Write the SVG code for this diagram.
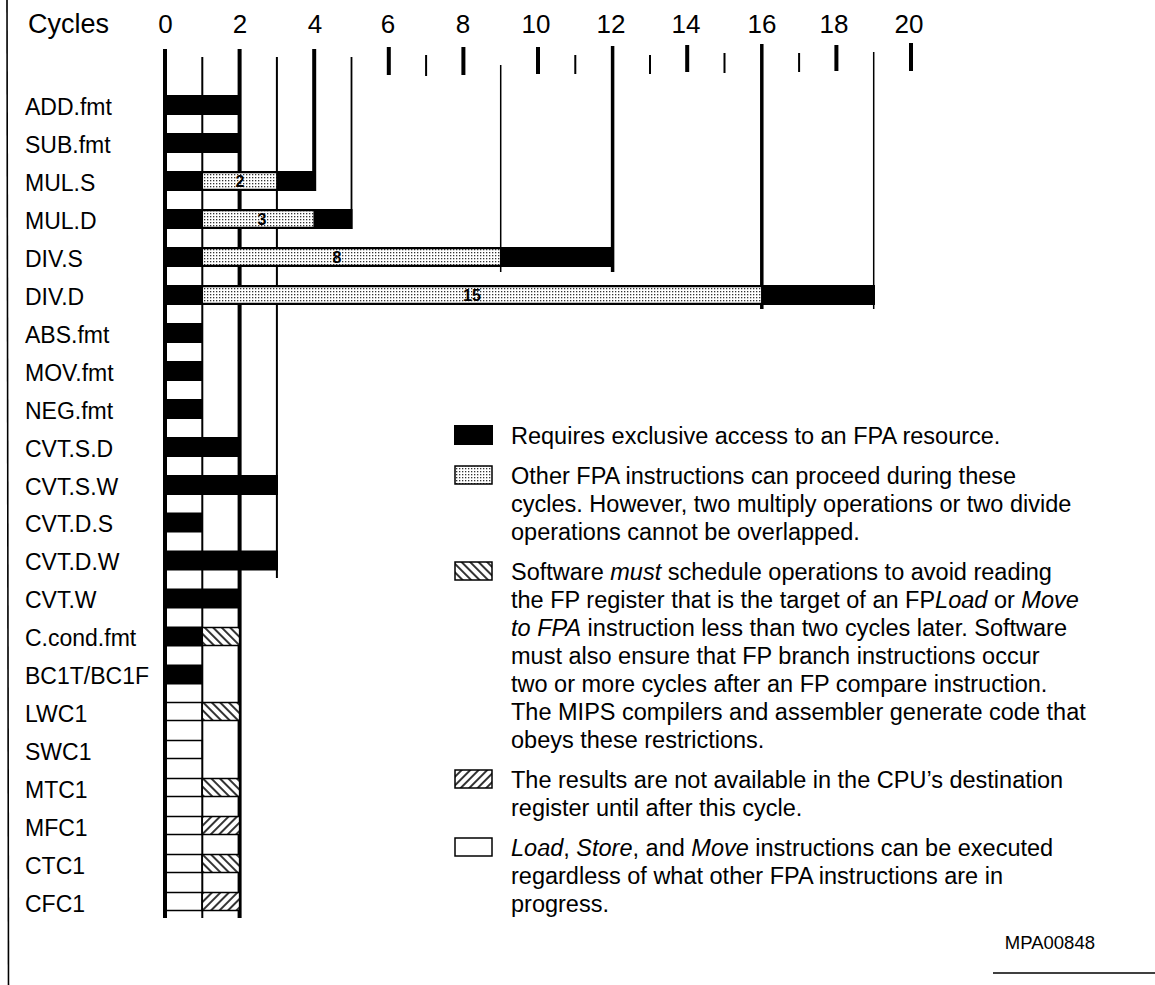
<svg xmlns="http://www.w3.org/2000/svg" width="1155" height="985" viewBox="0 0 1155 985">
<defs>
<pattern id="dots" width="3" height="3" patternUnits="userSpaceOnUse"><rect width="3" height="3" fill="#fff"/><rect width="1.3" height="1.3" fill="#333"/></pattern>
<pattern id="hb" width="6" height="6" patternUnits="userSpaceOnUse" patternTransform="rotate(-45)"><rect width="6" height="6" fill="#fff"/><line x1="1" y1="0" x2="1" y2="6" stroke="#000" stroke-width="1.6"/></pattern>
<pattern id="hf" width="6" height="6" patternUnits="userSpaceOnUse" patternTransform="rotate(45)"><rect width="6" height="6" fill="#fff"/><line x1="1" y1="0" x2="1" y2="6" stroke="#000" stroke-width="1.6"/></pattern>
</defs>
<style>
text{font-family:"Liberation Sans",Arial,Helvetica,sans-serif;fill:#000}
.lbl{font-size:23px}
.num{font-size:26px;text-anchor:middle}
.cyc{font-size:27px}
.leg{font-size:23.5px}
.bn{font-size:16px;font-weight:bold;text-anchor:middle}
.code{font-size:18.5px;text-anchor:end}
.blk{fill:#000}
.stp{fill:url(#dots);stroke:#000;stroke-width:1.5}
.hb{fill:url(#hb);stroke:#000;stroke-width:1.5}
.hf{fill:url(#hf);stroke:#000;stroke-width:1.5}
.wb{fill:none;stroke:#000;stroke-width:1.5}
.ln{stroke:#000;fill:none}
</style>
<rect width="1155" height="985" fill="#fff"/>
<g id="frame">
<line class="ln" x1="7" y1="0" x2="8.5" y2="985" stroke-width="1.6"/>
<line class="ln" x1="993" y1="973" x2="1155" y2="973" stroke-width="1.4"/>
</g>
<g id="axis">
<text class="cyc" x="28" y="33">Cycles</text>
<text class="num" x="165.5" y="33">0</text>
<text class="num" x="240" y="33">2</text>
<text class="num" x="315" y="33">4</text>
<text class="num" x="388" y="33">6</text>
<text class="num" x="463" y="33">8</text>
<text class="num" x="536" y="33">10</text>
<text class="num" x="611" y="33">12</text>
<text class="num" x="686" y="33">14</text>
<text class="num" x="762" y="33">16</text>
<text class="num" x="834" y="33">18</text>
<text class="num" x="909" y="33">20</text>
</g>
<g id="connectors">
<path class="ln" stroke-width="4" d="M165 49V918M239.6 49V918M314.2 49V191"/>
<path class="ln" stroke-width="2" d="M202.3 57V918M276.9 57V578"/>
<path class="ln" stroke-width="1.8" d="M351.5 57V229"/>
<path class="ln" stroke-width="1.5" d="M500.7 65V272M873.7 52V309"/>
<path class="ln" stroke-width="3.5" d="M612.6 46V272M761.8 44V309"/>
<path class="ln" stroke-width="4" d="M388.8 47V75M463.4 47V75M538 47V74M687.2 45V72M836.4 45V71M911 43V71"/>
<path class="ln" stroke-width="2" d="M426.1 55V76M575.3 55V74M650 55V74M724.5 53V73M799.1 53V72"/>
</g>
<g id="row-ADD"><text class="lbl" x="25" y="114.5">ADD.fmt</text><rect class="blk" x="163" y="95" width="77" height="20"/></g>
<g id="row-SUB"><text class="lbl" x="25" y="152.5">SUB.fmt</text><rect class="blk" x="163" y="133" width="77" height="20"/></g>
<g id="row-MULS"><text class="lbl" x="25" y="190.5">MUL.S</text><rect class="blk" x="163" y="171" width="152" height="20"/><rect class="stp" x="202.3" y="172.5" width="74.6" height="17"/><text class="bn" x="240" y="187">2</text></g>
<g id="row-MULD"><text class="lbl" x="25" y="228.5">MUL.D</text><rect class="blk" x="163" y="209" width="189.5" height="20"/><rect class="stp" x="202.3" y="210.5" width="111.9" height="17"/><text class="bn" x="262" y="225">3</text></g>
<g id="row-DIVS"><text class="lbl" x="25" y="266.5">DIV.S</text><rect class="blk" x="163" y="247" width="451" height="20"/><rect class="stp" x="202.3" y="248.5" width="298.4" height="17"/><text class="bn" x="337" y="263">8</text></g>
<g id="row-DIVD"><text class="lbl" x="25" y="304.5">DIV.D</text><rect class="blk" x="163" y="285" width="712" height="20"/><rect class="stp" x="202.3" y="286.5" width="559.5" height="17"/><text class="bn" x="472" y="301">15</text></g>
<g id="row-ABS"><text class="lbl" x="25" y="342.5">ABS.fmt</text><rect class="blk" x="163" y="323" width="40" height="20"/></g>
<g id="row-MOV"><text class="lbl" x="25" y="380.5">MOV.fmt</text><rect class="blk" x="163" y="361" width="40" height="20"/></g>
<g id="row-NEG"><text class="lbl" x="25" y="418.5">NEG.fmt</text><rect class="blk" x="163" y="399" width="40" height="20"/></g>
<g id="row-CVTSD"><text class="lbl" x="25" y="456.5">CVT.S.D</text><rect class="blk" x="163" y="437" width="77" height="20"/></g>
<g id="row-CVTSW"><text class="lbl" x="25" y="494.5">CVT.S.W</text><rect class="blk" x="163" y="475" width="115" height="20"/></g>
<g id="row-CVTDS"><text class="lbl" x="25" y="532">CVT.D.S</text><rect class="blk" x="163" y="512.5" width="40" height="20"/></g>
<g id="row-CVTDW"><text class="lbl" x="25" y="570">CVT.D.W</text><rect class="blk" x="163" y="550.5" width="115" height="20"/></g>
<g id="row-CVTW"><text class="lbl" x="25" y="608">CVT.W</text><rect class="blk" x="163" y="588.5" width="77" height="20"/></g>
<g id="row-CCOND"><text class="lbl" x="25" y="646">C.cond.fmt</text><rect class="blk" x="163" y="626.5" width="40" height="20"/><rect class="hb" x="202.3" y="627.5" width="37.3" height="18"/></g>
<g id="row-BC1T"><text class="lbl" x="25" y="684">BC1T/BC1F</text><rect class="blk" x="163" y="664.5" width="40" height="20"/></g>
<g id="row-LWC1"><text class="lbl" x="25" y="721.5">LWC1</text><rect class="wb" x="165" y="702.5" width="37.3" height="18"/><rect class="hb" x="202.3" y="702.5" width="37.3" height="18"/></g>
<g id="row-SWC1"><text class="lbl" x="25" y="759.5">SWC1</text><rect class="wb" x="165" y="740.5" width="37.3" height="18"/></g>
<g id="row-MTC1"><text class="lbl" x="25" y="797.5">MTC1</text><rect class="wb" x="165" y="778.5" width="37.3" height="18"/><rect class="hb" x="202.3" y="778.5" width="37.3" height="18"/></g>
<g id="row-MFC1"><text class="lbl" x="25" y="835.5">MFC1</text><rect class="wb" x="165" y="816.5" width="37.3" height="18"/><rect class="hf" x="202.3" y="816.5" width="37.3" height="18"/></g>
<g id="row-CTC1"><text class="lbl" x="25" y="873.5">CTC1</text><rect class="wb" x="165" y="854.5" width="37.3" height="18"/><rect class="hb" x="202.3" y="854.5" width="37.3" height="18"/></g>
<g id="row-CFC1"><text class="lbl" x="25" y="911.5">CFC1</text><rect class="wb" x="165" y="892.5" width="37.3" height="18"/><rect class="hf" x="202.3" y="892.5" width="37.3" height="18"/></g>
<g id="legend-exclusive"><rect class="blk" x="454" y="425" width="39" height="20"/><text class="leg" x="511" y="444">Requires exclusive access to an FPA resource.</text></g>
<g id="legend-proceed"><rect class="stp" x="455" y="466" width="37" height="18"/>
<text class="leg" x="511" y="484">Other FPA instructions can proceed during these</text>
<text class="leg" x="511" y="512">cycles. However, two multiply operations or two divide</text>
<text class="leg" x="511" y="540">operations cannot be overlapped.</text></g>
<g id="legend-schedule"><rect class="hb" x="455" y="562" width="37" height="18"/>
<text class="leg" x="511" y="580">Software <tspan font-style="italic">must</tspan> schedule operations to avoid reading</text>
<text class="leg" x="511" y="608">the FP register that is the target of an FP<tspan font-style="italic">Load</tspan> or <tspan font-style="italic">Move</tspan></text>
<text class="leg" x="511" y="636"><tspan font-style="italic">to FPA</tspan> instruction less than two cycles later. Software</text>
<text class="leg" x="511" y="664">must also ensure that FP branch instructions occur</text>
<text class="leg" x="511" y="692">two or more cycles after an FP compare instruction.</text>
<text class="leg" x="511" y="720">The MIPS compilers and assembler generate code that</text>
<text class="leg" x="511" y="748">obeys these restrictions.</text></g>
<g id="legend-results"><rect class="hf" x="455" y="770" width="37" height="18"/>
<text class="leg" x="511" y="788">The results are not available in the CPU’s destination</text>
<text class="leg" x="511" y="816">register until after this cycle.</text></g>
<g id="legend-loadstore"><rect class="wb" x="455" y="838" width="37" height="18"/>
<text class="leg" x="511" y="856"><tspan font-style="italic">Load</tspan>, <tspan font-style="italic">Store</tspan>, and <tspan font-style="italic">Move</tspan> instructions can be executed</text>
<text class="leg" x="511" y="884">regardless of what other FPA instructions are in</text>
<text class="leg" x="511" y="912">progress.</text></g>
<text class="code" x="1095" y="949">MPA00848</text>
</svg>
